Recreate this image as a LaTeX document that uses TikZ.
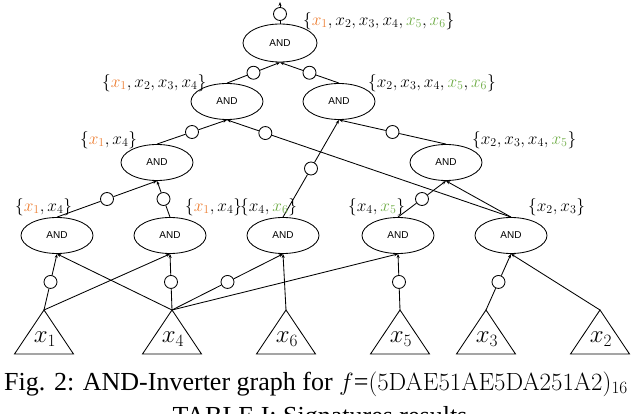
\documentclass[tikz,border=0pt]{standalone}
\usepackage[no-math]{fontspec}
\setmainfont{Liberation Serif}
\newfontfamily\andfont{Liberation Sans}
\usetikzlibrary{calc,shapes.geometric,arrows.meta}
\definecolor{orx}{RGB}{237,125,49}
\definecolor{grx}{RGB}{112,173,71}
\newcommand{\xo}[1]{{\color{orx}x_{#1}}}
\newcommand{\xg}[1]{{\color{grx}x_{#1}}}
\tikzset{
  gate/.style={draw, ellipse, minimum width=72pt, minimum height=36pt, inner sep=0pt,
    font=\andfont\fontsize{10}{12}\selectfont, line width=0.85pt},
  inv/.style={draw, circle, minimum size=13pt, inner sep=0pt, line width=0.85pt},
  wire/.style={line width=0.85pt},
  arr/.style={line width=0.85pt, -{Stealth[length=4pt,width=3pt]}},
  sig/.style={font=\fontsize{16.5}{18}\selectfont, inner sep=0pt, anchor=west},
  pinlab/.style={font=\fontsize{26}{28}\selectfont, inner sep=0pt},
  tri/.style={line width=0.85pt}
}
\begin{document}
\begin{tikzpicture}[x=1pt,y=-1pt]
\useasboundingbox (0,0) rectangle (640,414);
\clip (0,0) rectangle (640,414);

% gates
\node[gate, minimum width=74pt, minimum height=38pt] (g0) at (280,43) {AND};
\node[gate] (g1) at (227,101.5) {AND};
\node[gate] (g2) at (339,101.5) {AND};
\node[gate] (g3) at (157,162.5) {AND};
\node[gate] (g4) at (446,162.5) {AND};
\node[gate] (a1) at (57,235.5) {AND};
\node[gate] (a2) at (170,235.5) {AND};
\node[gate] (a3) at (283,235.5) {AND};
\node[gate] (a4) at (398,235.5) {AND};
\node[gate] (a5) at (511,235.5) {AND};

% inputs (triangles)
\foreach \n/\x/\i in {p1/44/1, p4/172/4, p6/286/6, p5/400/5, p3/486/3, p2/600/2}{
  \coordinate (\n) at (\x,310);
  \draw[tri] (\n) -- ++(-29.5,44) -- ++(59,0) -- cycle;
  \node[pinlab] (\n l) at (\x+1,339) {$x_{\i}$};
}

% output
\node[inv] (o) at (280,14) {};
\coordinate (out) at (280,2);
\draw[wire] (g0.north) -- (o);
\draw[arr] (o) -- (out);

% inverted edges
\foreach \c/\p/\f/\nm in {g1/g0/0.5/i1, g2/g0/0.5/i2, g3/g1/0.5/i3, a5/g1/0.865/i4,
    a3/g2/0.5/i5, g4/g2/0.5/i6, a1/g3/0.5/i7, a2/g3/0.5/i8, a4/g4/0.5/i9}{
  \path ($(\c.north)!\f!(\p.south)$) node[inv] (\nm) {};
  \draw[wire] (\c.north) -- (\nm);
  \draw[arr] (\nm) -- (\p.south);
}
\foreach \c/\p/\nm in {p1/a1/j1, p4/a2/j2, p4/a3/j3, p5/a4/j4, p3/a5/j5}{
  \path ($(\c)!0.5!(\p.south)$) node[inv] (\nm) {};
  \draw[wire] (\c) -- (\nm);
  \draw[arr] (\nm) -- (\p.south);
}
% plain edges
\draw[arr] (a5.north) -- (g4.south);
\draw[arr] (p4) -- (a1.south);
\draw[arr] (p1) -- (a2.south);
\draw[arr] (p6) -- (a3.south);
\draw[arr] (p4) -- (a4.south);
\draw[arr] (p2) -- (a5.south);

% signatures
\node[sig] (s0) at (303,21) {$\{\xo1,x_2,x_3,x_4,\xg5,\xg6\}$};
\node[sig] (s1) at (102,83) {$\{\xo1,x_2,x_3,x_4\}$};
\node[sig] (s2) at (368,83) {$\{x_2,x_3,x_4,\xg5,\xg6\}$};
\node[sig] (s3) at (80,140) {$\{\xo1,x_4\}$};
\node[sig] (s4) at (472,140) {$\{x_2,x_3,x_4,\xg5\}$};
\node[sig] (s5) at (15,207) {$\{\xo1,x_4\}$};
\node[sig] (s6) at (185,207) {$\{\xo1,x_4\}$};
\node[sig] (s7) at (240,207) {$\{x_4,\xg6\}$};
\node[sig] (s8) at (348,207) {$\{x_4,\xg5\}$};
\node[sig] (s9) at (528,207) {$\{x_2,x_3\}$};

% captions
\node[anchor=base west, inner sep=0pt, font=\fontsize{26}{28}\selectfont] (cap) at (4,390)
  {Fig. 2: AND-Inverter graph for $f$=$(\mathrm{5DAE51AE5DA251A2})_{16}$};
\node[anchor=base, inner sep=0pt, font=\fontsize{26}{28}\selectfont] (tab) at (320,424)
  {TABLE I: Signatures results};
\end{tikzpicture}
\end{document}
